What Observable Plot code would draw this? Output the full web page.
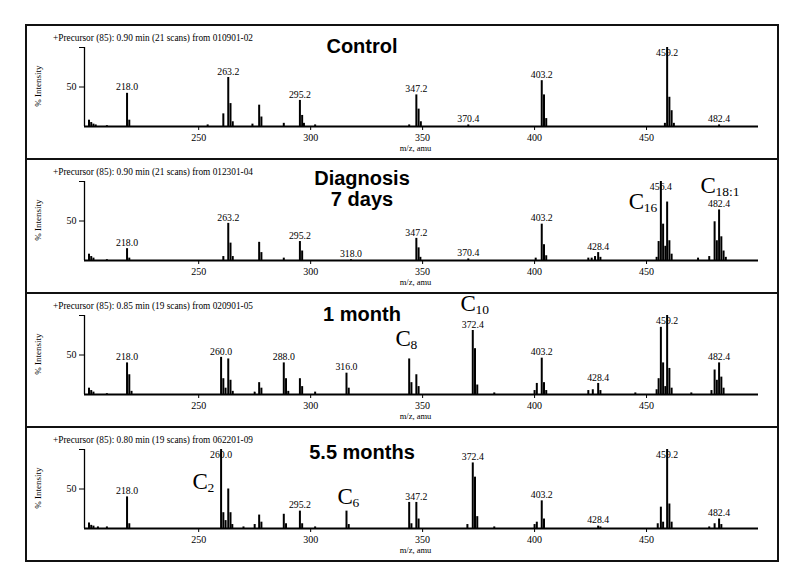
<!DOCTYPE html>
<html><head><meta charset="utf-8">
<script src="https://cdn.jsdelivr.net/npm/d3@7"></script>
<script src="https://cdn.jsdelivr.net/npm/@observablehq/plot@0.6"></script>
<style>
body{margin:0;background:#fff;}
#box{position:absolute;left:25px;top:24px;width:750px;border:2px solid #111;}
.panel{position:relative;height:132px;border-bottom:2px solid #111;}
.panel:last-child{border-bottom:none;}
.panel svg{position:absolute;left:0;top:0;}
.hdr{position:absolute;left:26px;top:7px;font:9.3px "Liberation Serif";line-height:10px;white-space:nowrap;color:#000;}
.ttl{position:absolute;left:335px;transform:translateX(-50%);font:bold 20px "Liberation Sans";text-align:center;line-height:21px;color:#000;white-space:nowrap;}
.ylab{position:absolute;left:11px;top:60px;transform:translate(-50%,-50%) rotate(-90deg);font:9px "Liberation Serif";white-space:nowrap;color:#000;}
</style></head>
<body><div id="box"></div>
<script>
// ---- data ----
const titles = [["Control"], ["Diagnosis", "7 days"], ["1 month"], ["5.5 months"]];
const headers = [
  "+Precursor (85): 0.90 min (21 scans) from 010901-02",
  "+Precursor (85): 0.90 min (21 scans) from 012301-04",
  "+Precursor (85): 0.85 min (19 scans) from 020901-05",
  "+Precursor (85): 0.80 min (19 scans) from 062201-09"
];
const xDomain = [199, 500];
const xTicks = [250, 300, 350, 400, 450];
const yTicks = [50, 100];

const controlPeaks = [[201,8],[202,5],[203,3],[204,2],[209,1],[218,42],[219,8],[254,2],
  [261,16],[263.2,62],[264.2,29],[265.2,6],[274,3],[277,27],[278,12],[288,4],
  [295.2,33],[296.2,14],[297,4],[302,2],[344,2],[347.2,40],[348.2,22],[349.2,6],
  [370.4,2],[403.2,58],[404.2,40],[405.2,10],[458.2,4],[459.2,100],[460.2,37],[461.2,20],[462.2,4],[482.4,2]];
const diagnosisPeaks = [[201,8],[202,5],[203,3],[209,1],[218,15],[219,3],[261,5],[263.2,47],[264.2,22],[265.2,5],
  [277,23],[278,10],[288,3],[295.2,24],[296.2,12],[318,1],[347.2,28],[348.2,16],[349,4],[370.4,2],
  [400.5,3],[403.2,46],[404.2,20],[405.2,6],[424,3],[425.5,3],[427,5],[428.4,10],[429.4,4],
  [454.5,4],[455.4,24],[456.4,100],[457.4,46],[458.4,18],[459.2,74],[460.2,25],[461.2,8],
  [473,3],[478,5],[480.4,49],[481.4,25],[482.4,64],[483.4,30],[484.4,12],[485.4,4]];
const monthPeaks = [[201,8],[202,5],[203,3],[209,1],[218,40],[219,25],[220,4],
  [260,47],[261,20],[262,8],[263.2,45],[264.2,18],[265.2,4],[275,3],[277,15],[278,8],
  [288,40],[289,20],[290,4],[295.2,20],[296.2,10],[302,3],[316,27],[317,8],
  [344,45],[345,15],[347.2,25],[348.2,10],[372.4,81],[373.4,58],[374.4,12],[382,2],
  [400,5],[401,14],[403.2,46],[404.2,15],[405.2,5],[424,5],[426,6],[428.4,14],[429.4,5],[445,2],
  [454.5,6],[455.4,20],[456.4,85],[457.4,40],[458.4,10],[459.2,100],[460.2,33],[461.2,8],[470,2],
  [479,5],[480.4,31],[481.4,18],[482.4,40],[483.4,22],[484.4,8]];
const laterPeaks = [[201,7],[202,4],[203,3],[205,2],[209,2],[218,40],[219,6],
  [260,100],[261,20],[262,10],[263.2,50],[264.2,20],[265,5],[270,2],[275,5],[277,17],[278,8],
  [288,18],[289,6],[295.2,22],[296.2,6],[302,2],[316,22],[317,5],
  [344,33],[345,6],[347.2,33],[348.2,12],[370,5],[372.4,83],[373.4,65],[374.4,15],[382,2],
  [400,5],[401,8],[403.2,35],[404.2,12],[428.4,3],[429.4,2],
  [455,6],[456.4,27],[457.4,8],[459.2,100],[460.2,31],[461.2,8],[478,2],[480.4,6],[482.4,12],[483.4,5]];

const controlLabels = [218.0, 263.2, 295.2, 347.2, 370.4, 403.2, 459.2, 482.4];
const diagnosisLabels = [218.0, 263.2, 295.2, 318.0, 347.2, 370.4, 403.2, 428.4, 456.4, 482.4];
const monthLabels = [218.0, 260.0, 288.0, 316.0, 372.4, 403.2, 428.4, 459.2, 482.4];
const laterLabels = [218.0, 260.0, 295.2, 347.2, 372.4, 403.2, 428.4, 459.2, 482.4];

// chain-length annotations: [m/z, % level, subscript]
const controlNotes = [];
const diagnosisNotes = [[442.0, 74, "16"], [474.1, 95, "18:1"]];
const monthNotes = [[337.9, 71, "8"], [366.9, 115, "10"]];
const laterNotes = [[247.2, 59, "2"], [312.0, 40, "6"]];

// ---- layout ----
const titleTops = [10, 8, 10, 14];
const panels = [
  [controlPeaks, controlLabels, controlNotes],
  [diagnosisPeaks, diagnosisLabels, diagnosisNotes],
  [monthPeaks, monthLabels, monthNotes],
  [laterPeaks, laterLabels, laterNotes]
];

function makePlot(peaks, labels, notes) {
  const labelRows = labels.map(m => {
    const p = peaks.filter(d => Math.abs(d[0] - m) < 0.6).sort((a, b) => b[1] - a[1])[0];
    return {mz: m, y: Math.min(p ? p[1] : 0, 85), text: m.toFixed(1)};
  });
  return Plot.plot({
    width: 750, height: 132,
    marginLeft: 57, marginRight: 19, marginTop: 21, marginBottom: 32,
    x: {domain: xDomain},
    y: {domain: [0, 100]},
    style: {fontFamily: "Liberation Serif", fontSize: "10px", color: "#000", background: "transparent", overflow: "visible"},
    marks: [
      Plot.axisX({ticks: xTicks, tickSize: 4, tickPadding: 3, label: null, tickFormat: d => String(d)}),
      Plot.axisY({ticks: yTicks, tickSize: 5, tickPadding: 3, label: null, tickFormat: d => d === 50 ? "50" : ""}),
      Plot.ruleX(peaks, {x: d => d[0], y1: 0, y2: d => d[1], stroke: "#000", strokeWidth: 2}),
      Plot.ruleY([0], {stroke: "#000", strokeWidth: 2}),
      Plot.ruleX([xDomain[0]], {stroke: "#000", strokeWidth: 1.3}),
      Plot.text(labelRows, {x: "mz", y: "y", text: "text", dy: -6, fill: "#000", fontSize: 9.8}),
      Plot.text(["m/z, amu"], {frameAnchor: "bottom", text: d => d, dy: 24, dx: -6, fontSize: 8.5, fill: "#000"}),
      Plot.text(notes, {x: d => d[0], y: d => d[1], text: () => "C", textAnchor: "start", fontSize: 23, fill: "#000"}),
      Plot.text(notes, {x: d => d[0], y: d => d[1], text: d => d[2], textAnchor: "start", dx: 15, dy: 6, fontSize: 13.5, fill: "#000"})
    ]
  });
}

const box = document.getElementById("box");
panels.forEach(([peaks, labels, notes], i) => {
  const div = document.createElement("div");
  div.className = "panel";
  div.appendChild(makePlot(peaks, labels, notes));
  const h = document.createElement("div");
  h.className = "hdr"; h.textContent = headers[i]; div.appendChild(h);
  const t = document.createElement("div");
  t.className = "ttl"; t.style.top = titleTops[i] + "px";
  t.innerHTML = titles[i].join("<br>"); div.appendChild(t);
  const y = document.createElement("div");
  y.className = "ylab"; y.textContent = "% Intensity"; div.appendChild(y);
  box.appendChild(div);
});
</script>
</body></html>
